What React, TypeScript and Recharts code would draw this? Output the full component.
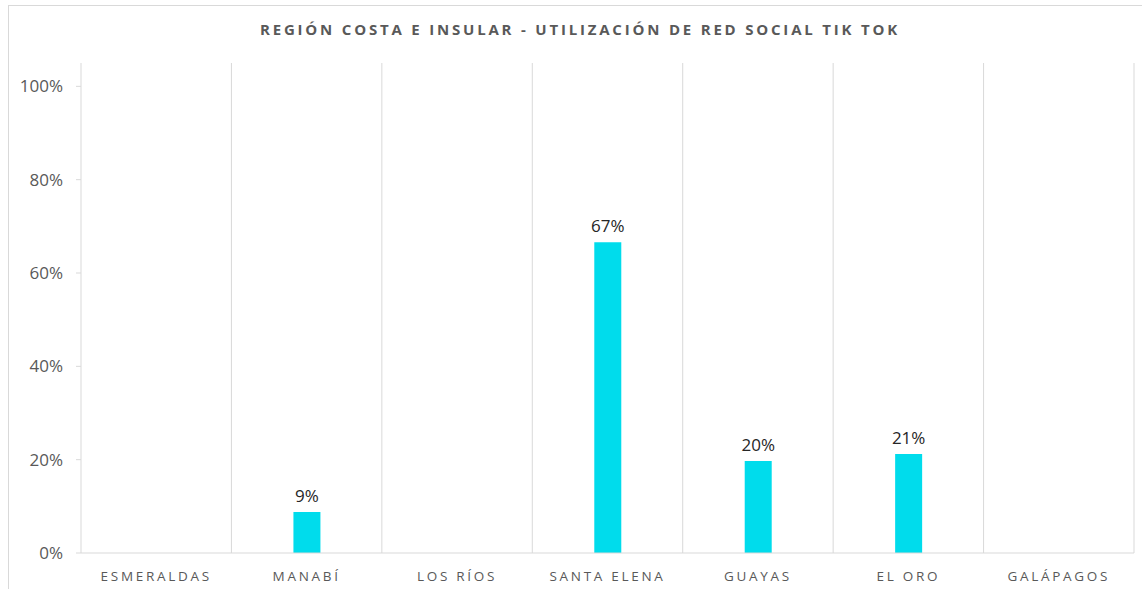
import React from 'react';
import { BarChart, Bar, XAxis, YAxis, CartesianGrid, LabelList } from 'recharts';

const categories = ['ESMERALDAS', 'MANABÍ', 'LOS RÍOS', 'SANTA ELENA', 'GUAYAS', 'EL ORO', 'GALÁPAGOS'];
// porcentaje de uso de Tik Tok (null = sin dato)
const tiktokValues: (number | null)[] = [null, 8.8, null, 66.6, 19.7, 21.2, null];
const yTicks = [0, 20, 40, 60, 80, 100];

const TITLE = 'REGIÓN COSTA E INSULAR - UTILIZACIÓN DE RED SOCIAL TIK TOK';
const FONT = '"Open Sans", "Liberation Sans", sans-serif';

const chartData = categories.map((name, i) => ({ name, value: tiktokValues[i] }));

const App: React.FC = () => {
  // gridlines between categories, not at their centers
  const boundaryLines = ({ offset }: any) => {
    const step = offset.width / categories.length;
    return Array.from({ length: categories.length + 1 }, (_, i) => offset.left + step * i);
  };

  return (
    <div style={{ position: 'relative', width: 1142, height: 589, fontFamily: FONT }}>
      <style>{'body{margin:0;overflow:hidden;}'}</style>
      <div
        style={{
          position: 'absolute',
          left: 8,
          top: 5,
          width: 1140,
          height: 590,
          borderLeft: '1px solid #d9d9d9',
          borderTop: '1px solid #d9d9d9',
        }}
      />
      <div
        style={{
          position: 'absolute',
          top: 19,
          left: 0,
          width: 1160,
          textAlign: 'center',
          fontSize: 15,
          fontWeight: 700,
          letterSpacing: 2.8,
          color: '#595959',
        }}
      >
        {TITLE}
      </div>
      <div style={{ position: 'absolute', left: 0, top: 0 }}>
        <BarChart
          width={1142}
          height={589}
          data={chartData}
          margin={{ top: 63, right: 8, bottom: 0, left: 0 }}
          barSize={27}
        >
          <CartesianGrid
            horizontal={false}
            stroke="#d9d9d9"
            verticalCoordinatesGenerator={boundaryLines}
          />
          <XAxis
            dataKey="name"
            height={36}
            tickLine={false}
            tickSize={0}
            tickMargin={18}
            axisLine={{ stroke: '#d9d9d9' }}
            tick={{ fill: '#595959', fontSize: 13.5, letterSpacing: 2.7, fontFamily: FONT }}
            interval={0}
          />
          <YAxis
            width={81}
            domain={[0, 105]}
            ticks={yTicks}
            tickFormatter={(v) => `${v}%`}
            axisLine={false}
            tickLine={{ stroke: '#d9d9d9' }}
            tickSize={5}
            tickMargin={13}
            tick={{ fill: '#595959', fontSize: 17, fontFamily: FONT }}
          />
          <Bar dataKey="value" fill="#00dcec" isAnimationActive={false}>
            <LabelList
              dataKey="value"
              position="top"
              offset={10}
              formatter={(v: any) => (v == null ? '' : `${Math.round(v)}%`)}
              style={{ fill: '#262626', fontSize: 17, fontFamily: FONT }}
            />
          </Bar>
        </BarChart>
      </div>
    </div>
  );
};

export default App;
